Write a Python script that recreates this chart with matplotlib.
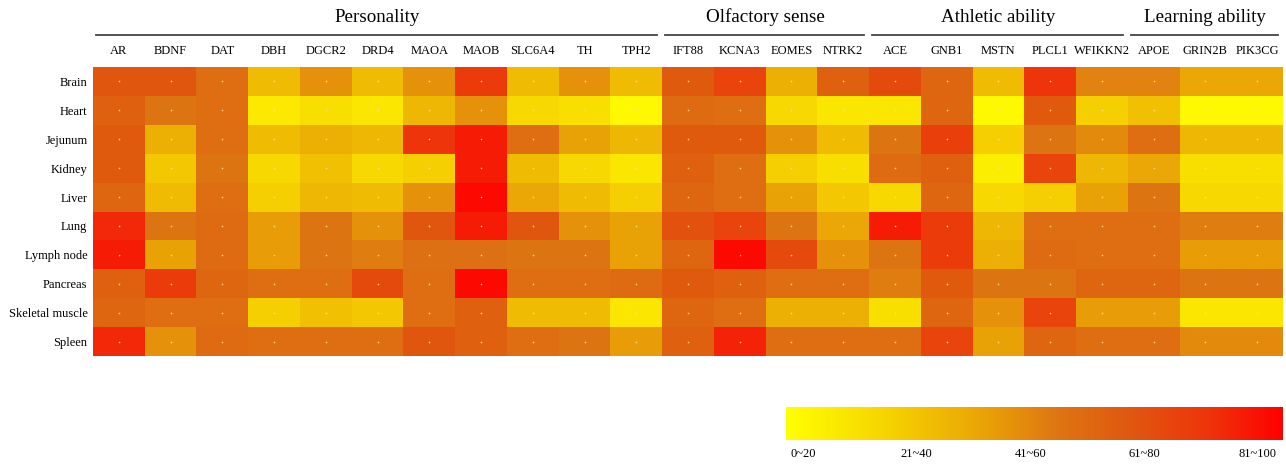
import numpy as np
import matplotlib
matplotlib.use("Agg")
import matplotlib.pyplot as plt
from matplotlib.colors import LinearSegmentedColormap

# tissues (rows) and genes (columns)
tissues = ["Brain", "Heart", "Jejunum", "Kidney", "Liver", "Lung",
           "Lymph node", "Pancreas", "Skeletal muscle", "Spleen"]
genes = ["AR", "BDNF", "DAT", "DBH", "DGCR2", "DRD4", "MAOA", "MAOB", "SLC6A4", "TH", "TPH2",
         "IFT88", "KCNA3", "EOMES", "NTRK2",
         "ACE", "GNB1", "MSTN", "PLCL1", "WFIKKN2",
         "APOE", "GRIN2B", "PIK3CG"]

# trait groups: name, first gene index, last gene index
groups = ["Personality", "Olfactory sense", "Athletic ability", "Learning ability"]
group_start = [0, 11, 15, 20]
group_end = [10, 14, 19, 22]

# expression level per gene (0-100), order follows tissues
AR      = [70, 65, 68, 68, 62, 88, 92, 65, 62, 88]
BDNF    = [70, 55, 35, 25, 30, 55, 40, 82, 58, 45]
DAT     = [58, 58, 58, 55, 58, 60, 60, 62, 58, 60]
DBH     = [30, 10, 30, 18, 22, 42, 42, 58, 22, 58]
DGCR2   = [45, 15, 35, 28, 32, 55, 55, 58, 28, 58]
DRD4    = [30, 12, 32, 18, 30, 45, 52, 75, 25, 58]
MAOA    = [45, 32, 85, 22, 45, 70, 57, 58, 58, 70]
MAOB    = [82, 45, 92, 92, 97, 92, 57, 97, 65, 65]
SLC6A4  = [30, 18, 58, 30, 38, 70, 55, 58, 30, 58]
TH      = [45, 15, 40, 18, 30, 45, 55, 58, 30, 55]
TPH2    = [30, 3, 32, 12, 22, 40, 40, 60, 12, 42]
IFT88   = [68, 60, 68, 65, 62, 72, 62, 68, 62, 65]
KCNA3   = [78, 58, 68, 58, 58, 78, 97, 65, 58, 90]
EOMES   = [35, 18, 45, 22, 40, 55, 75, 58, 35, 58]
NTRK2   = [65, 12, 30, 15, 25, 38, 45, 58, 35, 58]
ACE     = [75, 12, 55, 60, 18, 92, 55, 52, 15, 58]
GNB1    = [62, 62, 80, 65, 62, 82, 82, 68, 62, 78]
MSTN    = [30, 3, 22, 8, 18, 32, 35, 55, 45, 40]
PLCL1   = [85, 68, 55, 78, 22, 58, 60, 55, 78, 62]
WFIKKN2 = [50, 22, 48, 32, 40, 58, 58, 62, 42, 58]
APOE    = [50, 28, 58, 38, 55, 58, 58, 62, 42, 58]
GRIN2B  = [38, 3, 32, 15, 18, 52, 42, 55, 12, 48]
PIK3CG  = [38, 3, 32, 15, 18, 52, 42, 55, 12, 48]

# colorbar labels
range_labels = ["0~20", "21~40", "41~60", "61~80", "81~100"]

data = np.array([AR, BDNF, DAT, DBH, DGCR2, DRD4, MAOA, MAOB, SLC6A4, TH, TPH2,
                 IFT88, KCNA3, EOMES, NTRK2, ACE, GNB1, MSTN, PLCL1, WFIKKN2,
                 APOE, GRIN2B, PIK3CG]).T

cmap = LinearSegmentedColormap.from_list("yor", [
    (0.0, "#FFFF00"), (0.2, "#F6D400"), (0.4, "#E9A206"),
    (0.55, "#DD7412"), (0.7, "#E0560E"), (0.85, "#EE340A"), (1.0, "#FF0000")])

plt.rcParams["font.family"] = ["Liberation Serif", "DejaVu Serif"]

W, H = 1286, 466
fig = plt.figure(figsize=(W / 100, H / 100), dpi=100)

# heatmap
x0, x1, y0, y1 = 93, 1283, 67, 356
ax = fig.add_axes([x0 / W, 1 - y1 / H, (x1 - x0) / W, (y1 - y0) / H])
mesh = ax.pcolormesh(data, cmap=cmap, vmin=0, vmax=100)
ax.set_xlim(0, len(genes))
ax.set_ylim(len(tissues), 0)

# little dots in the middle of each cell
cx, cy = np.meshgrid(np.arange(len(genes)) + 0.5, np.arange(len(tissues)) + 0.5)
ax.scatter(cx.ravel(), cy.ravel(), s=1.5, color="#FBE3A0", alpha=0.8, linewidths=0)

ax.set_xticks(np.arange(len(genes)) + 0.5)
ax.set_xticklabels(genes, fontsize=9)
ax.xaxis.tick_top()
ax.set_yticks(np.arange(len(tissues)) + 0.5)
ax.set_yticklabels(tissues, fontsize=9)
ax.tick_params(length=0)
ax.tick_params(axis="x", pad=7)
ax.tick_params(axis="y", pad=4)
for s in ax.spines.values():
    s.set_visible(False)

# group lines and titles above the gene names
line_y = (y1 - 35) / (y1 - y0)
title_y = (y1 - 17) / (y1 - y0)
trans = ax.get_xaxis_transform()
for name, a, b in zip(groups, group_start, group_end):
    ax.plot([a + 0.06, b + 0.9], [line_y, line_y], color="#444444", lw=1.3,
            transform=trans, clip_on=False)
    ax.text((a + b + 1) / 2, title_y, name, fontsize=13.7, ha="center", va="center",
            transform=trans)

# colorbar
cax = fig.add_axes([786 / W, 1 - 440 / H, 497 / W, 33 / H])
cb = fig.colorbar(mesh, cax=cax, orientation="horizontal")
cb.outline.set_visible(False)
cb.set_ticks(np.linspace(3.4, 94.9, len(range_labels)))
cb.set_ticklabels(range_labels)
cax.tick_params(length=0, labelsize=9, pad=6)

fig.savefig("out.png", dpi=100)
